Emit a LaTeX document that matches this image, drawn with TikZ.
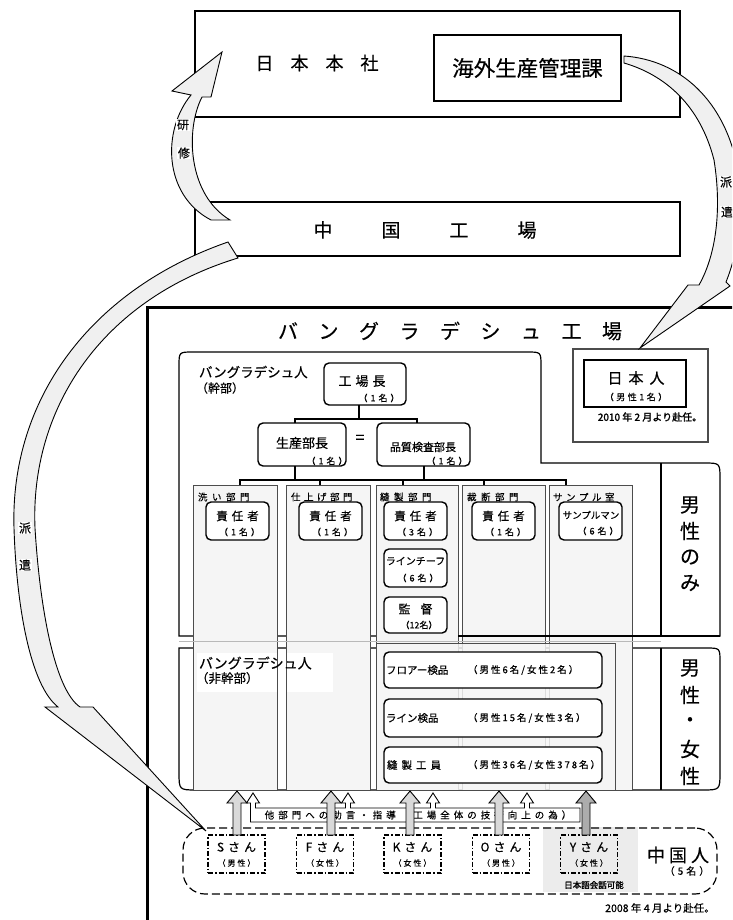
\documentclass[tikz,border=0pt]{standalone}
\usepackage{fontspec}
\setmainfont[FakeBold=0.4]{Noto Sans CJK JP}
\newfontfamily\jpbold[FakeBold=1.8]{Noto Sans CJK JP}
\newcommand\fsz[1]{\fontsize{#1pt}{#1pt}\selectfont}
% spaced characters: \spc{kern}{text}
\newcommand\spc[2]{\def\spcamt{#1}\spcA#2\relax}
\def\spcA#1{#1\futurelet\spcnext\spcB}
\def\spcB{\ifx\spcnext\relax\expandafter\spcEnd\else\kern\spcamt\relax\expandafter\spcA\fi}
\def\spcEnd\relax{}
\newcommand\bigup[2]{\draw[bigarr,fill=#2] ([xshift=-4pt]#1) -- ++(0,-32) -- ++(-6,0) -- ++(10,-12) -- ++(10,12) -- ++(-6,0) -- ++(0,32) -- cycle;}
\begin{document}
\begin{tikzpicture}[x=1pt,y=-1pt,
  every node/.style={inner sep=0pt, outer sep=0pt},
  frame/.style={draw, line width=1.2pt},
  rbox/.style={draw, line width=1.4pt, rounded corners=5pt, fill=white},
  colbox/.style={fill=gray!8},
  colline/.style={draw=gray!60!black, line width=0.9pt},
  conn/.style={line width=1.3pt},
  band/.style={draw, line width=0.9pt, fill=gray!12},
  bigarr/.style={draw, line width=0.9pt},
  alabel/.style={fill=white, inner sep=0.6pt, font=\fsz{12}},
  dashdot/.style={draw, line width=1.1pt, dash pattern=on 5pt off 2pt on 1.5pt off 2pt},
  dlabel/.style={anchor=west, font=\fsz{9.5}},
]
\useasboundingbox (0,0) rectangle (732,920);
\clip (0,0) rectangle (732,920);

% ---------- Japan HQ and China factory ----------
\node[frame, minimum width=485, minimum height=106] (hq) at (437.5,64) {};
\node[font=\fsz{18}] (hqt) at (317,63) {\spc{17pt}{日本本社}};
\node[frame, minimum width=187, minimum height=66] (kaigai) at (527.5,68) {};
\node[font=\fsz{21.5}] at (kaigai.center) {海外生産管理課};
\node[frame, minimum width=485, minimum height=54] (cnf) at (437.5,229) {};
\node[font=\fsz{19}] (cnft) at (425,230) {\spc{49pt}{中国工場}};

% ---------- Bangladesh factory ----------
\draw[line width=3pt] (147,925) -- (147,307) -- (740,307);
\node[font=\fsz{20}] (bdt) at (450,331) {\spc{20.5pt}{バングラデシュ工場}};

% regions
\draw[frame] (179,636) -- (179,366) .. controls (179,352) .. (193,352) -- (527,352) .. controls (541,352) .. (541,366) -- (541,463) -- (704,463) .. controls (720,463) .. (720,479) -- (720,636) -- cycle;
\draw[frame] (179,648) -- (706,648) .. controls (720,648) .. (720,662) -- (720,772) .. controls (720,790) .. (702,790) -- (197,790) .. controls (179,790) .. (179,772) -- cycle;
\draw[frame] (661,463) -- (661,636);
\draw[frame] (661,648) -- (661,790);

% Japanese expatriate
\node[draw=gray!60!black, line width=1.6pt, minimum width=135, minimum height=93] (jpo) at (640.5,395.5) {};
\node[draw, line width=1.2pt, minimum width=102, minimum height=47] (jpi) at (635,383.5) {};
\node[font=\fsz{15}] at (636,378) {\spc{6pt}{日本人}};
\node[font=\fsz{9}] at (636,397) {\spc{2.5pt}{（男性1名）}};
\node[font={\jpbold\fsz{10}}] at (650,417) {2010 年 2 月より赴任。};

% columns
\node[colbox, minimum width=84, minimum height=305] (col1) at (235,637.5) {};
\node[colbox, minimum width=84, minimum height=305] (col2) at (328,637.5) {};
\node[colbox, minimum width=82, minimum height=305] (col3) at (417,637.5) {};
\node[colbox, minimum width=83, minimum height=305] (col4) at (503.5,637.5) {};
\node[colbox, minimum width=83, minimum height=305] (col5) at (590.5,637.5) {};
\node[fill=white, minimum width=136, minimum height=39] (wr) at (265,672.5) {};
\foreach \c in {col1,col2,col3,col4,col5} {\draw[colline] (\c.north west) rectangle (\c.south east);}
\node[draw=gray!60!black, line width=0.9pt, fill=gray!8, fill opacity=0.85, minimum width=239, minimum height=147] (sewwide) at (495.5,716.5) {};
\draw[gray!55, line width=0.6pt] (179,641) -- (661,641);
\draw[frame] (458,636) -- (720,636);
\draw[frame] (661,463) -- (661,636);

% region texts
\node[font=\fsz{13.5}, anchor=west] at (199,372) {バングラデシュ人};
\node[font=\fsz{12}, anchor=west] at (196,388) {（幹部）};
\node[font=\fsz{14}, anchor=west] at (199,663) {バングラデシュ人};
\node[font=\fsz{12.5}, anchor=west] at (196,678) {（非幹部）};
\foreach \y/\t in {505/男,531/性,557/の,583/み} {\node[font=\fsz{20}] at (690,\y) {\t};}
\foreach \y/\t in {668/男,695/性,722/・,749/女,776/性} {\node[font=\fsz{20}] at (690,\y) {\t};}

% org chart
\node[rbox, minimum width=82, minimum height=42] (kojo) at (365,384) {};
\node[font=\fsz{13}] at (362,381) {\spc{4pt}{工場長}};
\node[font=\fsz{9}] at (379,398) {\spc{3pt}{（1名）}};
\node[rbox, minimum width=88, minimum height=43] (seisan) at (302,444.5) {};
\node[font=\fsz{13}] at (302,443) {生産部長};
\node[font=\fsz{9}] at (327,461) {\spc{3pt}{（1名）}};
\node[rbox, minimum width=93, minimum height=43] (hinshitsu) at (423.5,444.5) {};
\node[font=\fsz{11}] at (423,447) {品質検査部長};
\node[font=\fsz{9}] at (447,461) {\spc{3pt}{（1名）}};
\node[font=\fsz{16}] (eq) at (360,439) {=};

\draw[conn] ([xshift=-6pt]kojo.south) -- ++(0,14);
\draw[conn] ([xshift=-7pt]seisan.north) -- ++(0,-4) -| ([xshift=-6.5pt]hinshitsu.north);
\draw[conn] ([xshift=-7pt]seisan.south) -- ++(0,14);
\draw[conn] ([xshift=0.5pt]hinshitsu.south) -- ++(0,14);
\draw[conn] ([xshift=5pt]col1.north) -- ++(0,-5) -| ([xshift=-24.5pt]col5.north);
\draw[conn] ([xshift=-8pt]col2.north) -- ++(0,-5);
\draw[conn] ([xshift=-14pt]col3.north) -- ++(0,-5);
\draw[conn] ([xshift=-19.5pt]col4.north) -- ++(0,-5);

% department labels
\node[dlabel] at (198,497) {\spc{4.5pt}{洗い部門}};
\node[dlabel] at (291,497) {\spc{3.5pt}{仕上げ部門}};
\node[dlabel] at (380,497) {\spc{4.5pt}{縫製部門}};
\node[dlabel] at (467,497) {\spc{4.5pt}{裁断部門}};
\node[dlabel] at (553,497) {\spc{3.5pt}{サンプル室}};

% managers
\foreach \n/\x/\k in {m1/237.5/1,m2/330.5/1,m3/415.5/3,m4/503.5/1} {
  \node[rbox, minimum width=63, minimum height=38] (\n) at (\x,521) {};
  \node[font=\fsz{11.5}] at (\x,516) {\spc{4pt}{責任者}};
  \node[font=\fsz{9}] at ([xshift=2pt]\n.center) [yshift=-11pt] {\spc{3pt}{（{\k}名）}};
}
\node[rbox, minimum width=63, minimum height=38] (m5) at (590.5,521) {};
\node[font=\fsz{9.5}] at (591,515) {サンプルマン};
\node[font=\fsz{9}] at (598,531) {\spc{3pt}{（6名）}};
\node[rbox, minimum width=63, minimum height=38] (chief) at (415.5,568) {};
\node[font=\fsz{10}] at (415.5,561) {ラインチーフ};
\node[font=\fsz{9}] at (418,578) {\spc{3pt}{（6名）}};
\node[rbox, minimum width=63, minimum height=36] (kantoku) at (415.5,615) {};
\node[font=\fsz{12}] at (415.5,609) {\spc{10pt}{監督}};
\node[font=\fsz{9}] at (419,625) {（12名）};

% workers
\node[rbox, minimum width=218, minimum height=36] (w1) at (493,670) {};
\node[rbox, minimum width=218, minimum height=38] (w2) at (493,718) {};
\node[rbox, minimum width=218, minimum height=36] (w3) at (493,765) {};
\node[font=\fsz{10.5}, anchor=west] at (386,670) {フロアー検品};
\node[font=\fsz{9.5}, anchor=west] at (468,670) {\spc{2pt}{（男性6名/女性2名）}};
\node[font=\fsz{10.5}, anchor=west] at (386,718) {ライン検品};
\node[font=\fsz{9.5}, anchor=west] at (468,718) {\spc{2pt}{（男性15名/女性3名）}};
\node[font=\fsz{10.5}, anchor=west] at (387,765) {\spc{4pt}{縫製工員}};
\node[font=\fsz{9.5}, anchor=west] at (468,765) {\spc{2pt}{（男性36名/女性378名）}};

% ---------- Chinese staff ----------
\node[fill=gray!15, minimum width=95, minimum height=65] (yg) at (590.5,859.5) {};
\node[draw, line width=1.2pt, dash pattern=on 8pt off 4pt, rounded corners=22pt, minimum width=534, minimum height=66] (cnbox) at (450,861) {};
\foreach \n/\x/\nm/\sx in {pS/236.5/S/男,pF/325/F/女,pK/412.5/K/女,pO/501/O/男,pY/589/Y/女} {
  \node[dashdot, minimum width=57, minimum height=38] (\n) at (\x,854) {};
  \node[font=\fsz{12}] at (\x,847) {\spc{4pt}{{\nm}さん}};
  \node[font=\fsz{8}] at (\x,863) {\spc{2pt}{（{\sx}性）}};
}
\node[font=\fsz{18}] at (678,855) {\spc{4pt}{中国人}};
\node[font=\fsz{10}] at (687,871) {\spc{3pt}{（5名）}};
\node[font={\jpbold\fsz{8.5}}] at (594,885) {日本語会話可能};
\node[font=\fsz{10.5}] at (660,908) {2008 年 4 月より赴任。};

% advice pipe with small arrows
\draw[line width=0.9pt, fill=white] (253,793) -- (259.5,803) -- (255.5,803) -- (255.5,808) -- (345.5,808) -- (345.5,803) -- (341.5,803) -- (348,793) -- (354.5,803) -- (350.5,803) -- (350.5,808) -- (430.5,808) -- (430.5,803) -- (426.5,803) -- (433,793) -- (439.5,803) -- (435.5,803) -- (435.5,808) -- (524.5,808) -- (524.5,803) -- (520.5,803) -- (527,793) -- (533.5,803) -- (529.5,803) -- (529.5,808) -- (580,808) -- (580,822) -- (250.5,822) -- (250.5,803) -- (246.5,803) -- cycle;
\node[font=\fsz{9.5}] (advice) at (418,815) {\spc{4pt}{他部門への助言・指導（工場全体の技術向上の為）}};

% big arrows
\coordinate (aS) at ([xshift=0.5pt]pS.north);
\coordinate (aF) at ([xshift=6pt]pF.north);
\coordinate (aK) at ([xshift=-2.5pt]pK.north);
\coordinate (aO) at ([xshift=-2pt]pO.north);
\coordinate (aY) at ([xshift=-3pt]pY.north);
\bigup{aS}{gray!30}
\bigup{aF}{gray!30}
\bigup{aK}{gray!30}
\bigup{aO}{gray!30}
\bigup{aY}{gray!65}

% ---------- curved arrows ----------
% 研修
\draw[band] (191,95) .. controls (162,130) and (163,195) .. (211,220) -- (230,220) .. controls (188,195) and (185,130) .. (202,97) -- (211,97) -- (222,52) -- (172,91) -- cycle;
\node[alabel] at (183,125) {研};
\node[alabel] at (184,153) {修};
% 派遣 (right)
\draw[band] (624,56) .. controls (680,60) and (725,100) .. (738,170) .. controls (745,220) and (735,260) .. (726,282) -- (730,286) -- (640,348) -- (688,285) -- (699,285) .. controls (716,255) and (722,210) .. (714,160) .. controls (700,105) and (665,75) .. (624,63) -- cycle;
\node[alabel] at (726,182) {派};
\node[alabel] at (727,212) {遣};
% 派遣 (left)
\draw[band] (228,242) .. controls (90,290) and (10,400) .. (14,528) .. controls (16.4,605) and (30,685) .. (58,707) -- (45,707) -- (206,831) -- (93,707) -- (80,707) .. controls (55,690) and (40,610) .. (35,528) .. controls (30,410) and (100,300) .. (238,258) -- cycle;
\node[alabel] at (25,528) {派};
\node[alabel] at (25,565) {遣};
\end{tikzpicture}
\end{document}
